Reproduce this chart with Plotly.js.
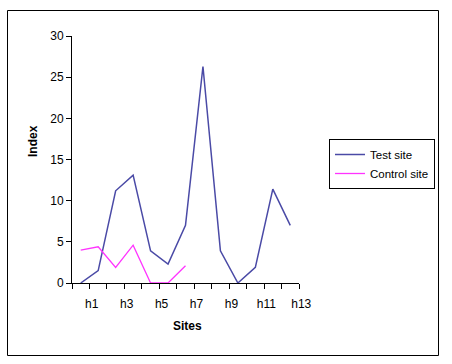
<!DOCTYPE html>
<html>
<head>
<meta charset="utf-8">
<script src="https://cdn.plot.ly/plotly-3.0.1.min.js"></script>
<style>
  html, body { margin: 0; padding: 0; background: #ffffff; }
  #chart { width: 452px; height: 364px; }
</style>
</head>
<body>
<div id="chart"></div>
<script>
// Data
const sites = ["h1","h2","h3","h4","h5","h6","h7","h8","h9","h10","h11","h12","h13"];
const siteLabels = ["h1","","h3","","h5","","h7","","h9","","h11","","h13"];
const testSite = [0, 1.5, 11.2, 13.1, 3.9, 2.3, 7.0, 26.3, 3.9, 0, 1.9, 11.4, 7.0];
const controlSite = [4.0, 4.4, 1.9, 4.6, 0, 0, 2.1, null, null, null, null, null, null];
const yTicks = [0, 5, 10, 15, 20, 25, 30];

const FONT = "Liberation Sans, Arial, sans-serif";

// plot area geometry (pixels)
const L = 72, R = 153, T = 36, B = 81;
const W = 452 - L - R, H = 364 - T - B;
const px = x => (x - L) / W;
const py = y => (364 - B - y) / H;

const traces = [
  {
    x: sites, y: testSite, name: "Test site", type: "scatter", mode: "lines",
    line: { color: "#4a4aa6", width: 1.5 }
  },
  {
    x: sites, y: controlSite, name: "Control site", type: "scatter", mode: "lines",
    line: { color: "#ff33ff", width: 1.3 }, connectgaps: false
  }
];

const layout = {
  width: 452, height: 364,
  margin: { l: L, r: R, t: T, b: B, pad: 0 },
  paper_bgcolor: "#ffffff", plot_bgcolor: "#ffffff",
  font: { family: FONT, size: 12, color: "#000000" },
  showlegend: true,
  legend: {
    x: px(329), y: py(139), xanchor: "left", yanchor: "top",
    bordercolor: "#000000", borderwidth: 1, bgcolor: "#ffffff",
    font: { family: FONT, size: 11.5, color: "#000000" },
    itemwidth: 30, tracegroupgap: 0
  },
  xaxis: {
    type: "category",
    range: [-0.5, sites.length - 0.5],
    tickmode: "array", tickvals: sites, ticktext: siteLabels,
    tickson: "boundaries", tickangle: 0,
    ticks: "outside", ticklen: 5, tickcolor: "#000000", tickwidth: 1,
    showline: true, linecolor: "#000000", linewidth: 1,
    showgrid: false, zeroline: false,
    ticklabelshift: 11, ticklabelstandoff: 10,
    tickfont: { family: FONT, size: 12, color: "#000000" },
    fixedrange: true
  },
  yaxis: {
    range: [0, 30],
    tickmode: "array", tickvals: yTicks,
    ticks: "outside", ticklen: 5, tickcolor: "#000000", tickwidth: 1,
    showline: true, linecolor: "#000000", linewidth: 1,
    showgrid: false, zeroline: false,
    tickfont: { family: FONT, size: 12, color: "#000000" },
    fixedrange: true
  },
  annotations: [
    {
      text: "<b>Sites</b>", xref: "paper", yref: "paper",
      x: px(187), y: py(326), xanchor: "center", yanchor: "middle",
      showarrow: false, font: { family: FONT, size: 12, color: "#000000" }
    },
    {
      text: "<b>Index</b>", xref: "paper", yref: "paper",
      x: px(33), y: py(141), xanchor: "center", yanchor: "middle",
      textangle: -90,
      showarrow: false, font: { family: FONT, size: 12, color: "#000000" }
    }
  ],
  shapes: [
    {
      type: "rect", xref: "paper", yref: "paper",
      x0: px(7.5), x1: px(438.5), y0: py(355.5), y1: py(10.5),
      line: { color: "#000000", width: 1 }, fillcolor: "rgba(0,0,0,0)",
      layer: "below"
    }
  ]
};

Plotly.newPlot("chart", traces, layout, { displayModeBar: false, staticPlot: true });
</script>
</body>
</html>
